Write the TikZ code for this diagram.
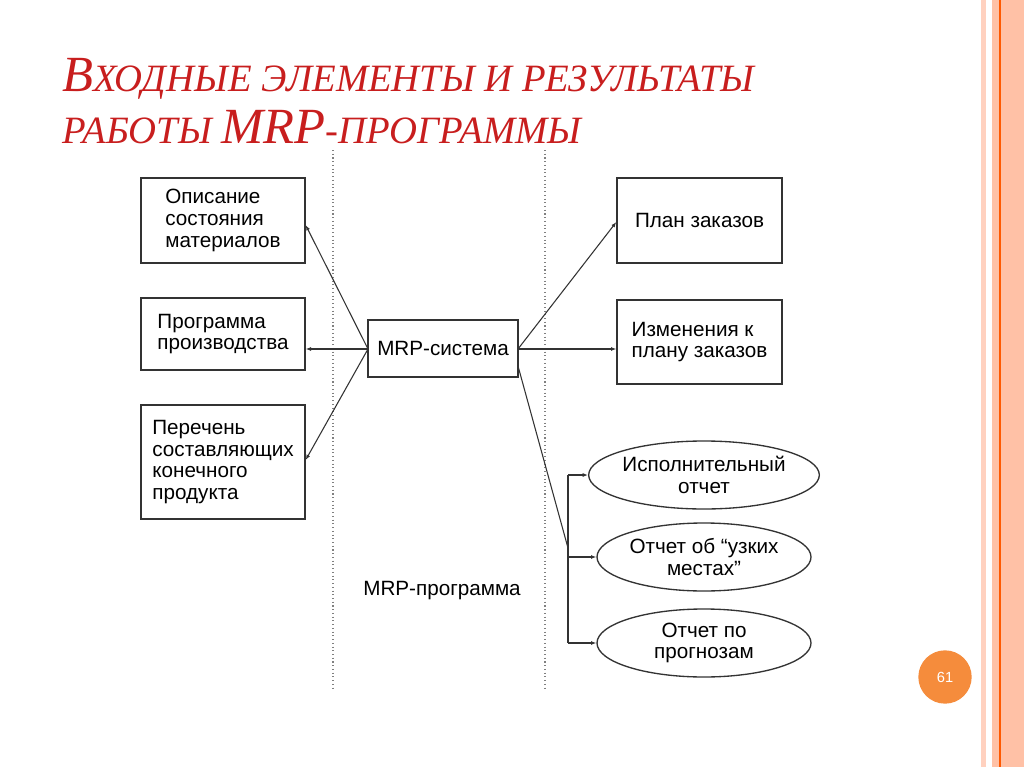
\documentclass[tikz,border=0pt]{standalone}
\usepackage{fontspec}
\setmainfont{Liberation Sans}
\newfontfamily\ttl{Liberation Serif}
\usetikzlibrary{arrows.meta,shapes.geometric}
\definecolor{ttlred}{RGB}{200,30,30}
\definecolor{pgorange}{RGB}{245,140,60}
\begin{document}
\begin{tikzpicture}[x=0.75pt,y=-0.75pt,
  bx/.style={draw=black!80,line width=1pt,inner sep=0pt,align=left,font=\fontsize{15.5}{16.2}\selectfont},
  el/.style={draw=black!80,ellipse,line width=1pt,minimum width=160.5pt,minimum height=51pt,inner sep=0pt,align=center,font=\fontsize{15.5}{16.2}\selectfont},
  ar/.style={line width=0.8pt,draw=black!80,-{Latex[length=4pt,width=3pt]}},
  ttlf/.style={font=\ttl\itshape,text=ttlred,anchor=base west,inner sep=0pt}]
\useasboundingbox (0,0) rectangle (1024,767);
\fill[white] (0,0) rectangle (1024,767);
% right stripes
\fill[red!45!orange!25] (981,0) rectangle (986,767);
\fill[red!40!orange!35] (992,0) rectangle (1024,767);
\draw[orange!70!red,line width=0.8pt] (1000,0) -- (1000,767);
% title
\node[ttlf] at (62,92) {\fontsize{38}{38}\selectfont В\fontsize{29}{29}\selectfont ХОДНЫЕ ЭЛЕМЕНТЫ И РЕЗУЛЬТАТЫ};
\node[ttlf] at (62,143) {\fontsize{29}{29}\selectfont РАБОТЫ \fontsize{38}{38}\selectfont MRP\fontsize{29}{29}\selectfont -ПРОГРАММЫ};
% dashed separators
\draw[gray,dotted,line width=0.8pt] (333,150) -- (333,690);
\draw[gray,dotted,line width=0.8pt] (545,150) -- (545,690);
% boxes
\node[bx,minimum width=123pt,minimum height=63.75pt] (l1) at (223,220.5) {Описание\\состояния\\материалов};
\node[bx,minimum width=123pt,minimum height=54pt] (l2) at (223,334) {Программа\\производства};
\node[bx,minimum width=123pt,minimum height=85.5pt] (l3) at (223,462) {Перечень\\составляющих\\конечного\\продукта};
\node[bx,minimum width=112.5pt,minimum height=42.75pt,align=center] (m) at (443,348.5) {MRP-система};
\node[bx,minimum width=123.75pt,minimum height=63.75pt] (r1) at (699.5,220.5) {План заказов};
\node[bx,minimum width=123.75pt,minimum height=63pt] (r2) at (699.5,342) {Изменения к\\плану заказов};
\node[el] (e1) at (704,475) {Исполнительный\\отчет};
\node[el] (e2) at (704,557) {Отчет об “узких\\местах”};
\node[el] (e3) at (704,643) {Отчет по\\прогнозам};
\node[font=\fontsize{15.5}{16.2}\selectfont] (lab) at (442,591) {MRP-программа};
% connectors
\coordinate (ml) at (368,349);
\coordinate (mr) at (518,349);
\coordinate (mb) at (518,366);
\coordinate (j) at (568,548);
\draw[ar] (ml) -- (l1.east |- 0,225);
\draw[ar] (ml) -- (l2.east |- 0,349);
\draw[ar] (ml) -- (l3.east |- 0,460);
\draw[ar] (mr) -- (r1.west |- 0,222);
\draw[ar] (mr) -- (r2.west |- 0,349);
\draw[line width=0.8pt,black!80] (mb) -- (j);
\draw[line width=0.8pt,black!80] (568,475) -- (568,643);
\draw[ar] (568,475) -- (e1.west);
\draw[ar] (568,557) -- (e2.west);
\draw[ar] (568,643) -- (e3.west);
% page number
\node[circle,fill=pgorange,minimum size=40pt,inner sep=0pt,text=white,font=\fontsize{11}{12}\selectfont] (pg) at (945,677) {61};
\end{tikzpicture}
\end{document}
